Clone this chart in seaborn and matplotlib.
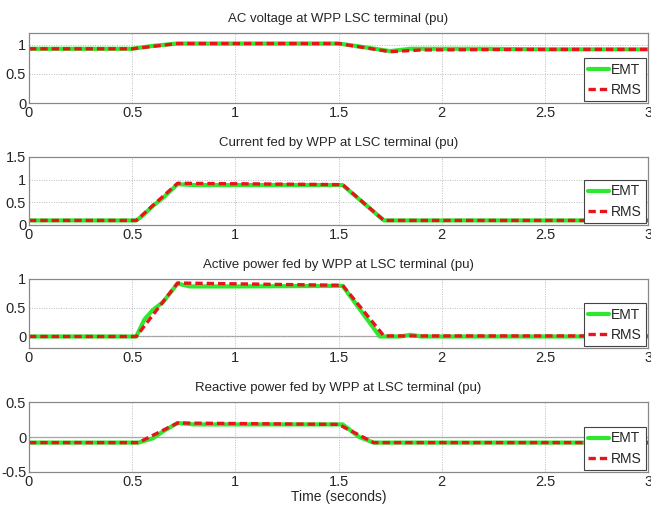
import pandas as pd
import matplotlib
matplotlib.use("Agg")
import matplotlib.pyplot as plt
import seaborn as sns

sns.set_style("white")
plt.rcParams['font.family'] = ['Liberation Sans Narrow', 'Liberation Sans', 'DejaVu Sans']

# time breakpoints (s) and values
volt_t_emt = [0, 0.5, 0.6, 0.72, 1.5, 1.6, 1.75, 1.85, 2.0, 2.2, 2.5, 3.0]
volt_emt = [0.93, 0.93, 0.98, 1.02, 1.02, 0.97, 0.89, 0.93, 0.93, 0.93, 0.92, 0.92]
volt_t_rms = [0, 0.5, 0.72, 1.5, 1.75, 1.9, 2.5, 3.0]
volt_rms = [0.93, 0.93, 1.02, 1.02, 0.88, 0.91, 0.92, 0.92]

cur_t_emt = [0, 0.52, 0.55, 0.6, 0.65, 0.72, 0.8, 1.5, 1.52, 1.72, 3.0]
cur_emt = [0.1, 0.1, 0.2, 0.42, 0.6, 0.9, 0.88, 0.88, 0.88, 0.1, 0.1]
cur_t_rms = [0, 0.52, 0.72, 1.52, 1.72, 3.0]
cur_rms = [0.1, 0.1, 0.92, 0.89, 0.1, 0.1]

p_t_emt = [0, 0.52, 0.56, 0.6, 0.65, 0.72, 0.78, 1.0, 1.5, 1.52, 1.7, 1.8, 1.85, 1.9, 3.0]
p_emt = [0.0, 0.0, 0.3, 0.46, 0.6, 0.92, 0.87, 0.87, 0.88, 0.88, 0.0, 0.0, 0.03, 0.0, 0.0]
p_t_rms = [0, 0.52, 0.72, 1.52, 1.72, 3.0]
p_rms = [0.0, 0.0, 0.93, 0.89, 0.01, 0.01]

q_t_emt = [0, 0.53, 0.6, 0.65, 0.72, 0.8, 1.5, 1.52, 1.6, 1.67, 3.0]
q_emt = [-0.08, -0.08, -0.02, 0.08, 0.2, 0.18, 0.18, 0.18, 0.0, -0.08, -0.08]
q_t_rms = [0, 0.53, 0.72, 1.5, 1.67, 3.0]
q_rms = [-0.08, -0.08, 0.2, 0.18, -0.08, -0.08]

titles = ["AC voltage at WPP LSC terminal (pu)",
          "Current fed by WPP at LSC terminal (pu)",
          "Active power fed by WPP at LSC terminal (pu)",
          "Reactive power fed by WPP at LSC terminal (pu)"]
ylims = [(0, 1.2), (0, 1.5), (-0.2, 1), (-0.5, 0.5)]
yticks = [[0, 0.5, 1], [0, 0.5, 1, 1.5], [0, 0.5, 1], [-0.5, 0, 0.5]]
xticks = [0, 0.5, 1, 1.5, 2, 2.5, 3]
xticklabels = ["0", "0.5", "1", "1.5", "2", "2.5", "3"]

series = [(volt_t_emt, volt_emt, volt_t_rms, volt_rms),
          (cur_t_emt, cur_emt, cur_t_rms, cur_rms),
          (p_t_emt, p_emt, p_t_rms, p_rms),
          (q_t_emt, q_emt, q_t_rms, q_rms)]

# axes boxes in figure coords
boxes = [(0.0445, 0.7976, 0.951, 0.1375),
         (0.0445, 0.558, 0.951, 0.1336),
         (0.0445, 0.3163, 0.951, 0.1356),
         (0.0445, 0.0727, 0.951, 0.1375)]

fig = plt.figure(figsize=(6.51, 5.09), dpi=100)

for i in range(4):
    ax = fig.add_axes(boxes[i])
    te, ye, tr, yr = series[i]
    df = pd.concat([pd.DataFrame({"t": te, "v": ye, "s": "EMT"}),
                    pd.DataFrame({"t": tr, "v": yr, "s": "RMS"})])
    sns.lineplot(data=df[df.s == "EMT"], x="t", y="v", ax=ax, color="#2ee82e",
                 lw=3, label="EMT", estimator=None, sort=False)
    sns.lineplot(data=df[df.s == "RMS"], x="t", y="v", ax=ax, color="#e8141b",
                 lw=2.4, label="RMS", estimator=None, sort=False, linestyle=(0, (2.2, 1.2)))
    if ylims[i][0] < 0:
        ax.axhline(0, color="#999999", lw=0.9, zorder=0)
    ax.set_xlim(0, 3)
    ax.set_ylim(*ylims[i])
    ax.set_xticks(xticks)
    ax.set_xticklabels(xticklabels)
    ax.set_yticks(yticks[i])
    ax.set_yticklabels([f"{v:g}" for v in yticks[i]])
    ax.grid(True, color="#bbbbbb", linestyle=(0, (1, 1.5)), lw=0.7)
    ax.tick_params(direction="in", length=3, labelsize=10.5, pad=2, color="#888888")
    for sp in ax.spines.values():
        sp.set_color("#888888")
        sp.set_linewidth(0.9)
    ax.set_title(titles[i], fontsize=9.5, pad=8)
    ax.set_xlabel("Time (seconds)" if i == 3 else "", fontsize=10, labelpad=1)
    ax.set_ylabel("")
    leg = ax.legend(loc="lower right", fontsize=10, handlelength=1.5, handletextpad=0.15,
                    borderpad=0.3, labelspacing=0.45, fancybox=False, framealpha=1,
                    borderaxespad=0.15)
    leg.get_frame().set_edgecolor("#444444")
    leg.get_frame().set_linewidth(0.8)

fig.savefig("out.png", dpi=100)
